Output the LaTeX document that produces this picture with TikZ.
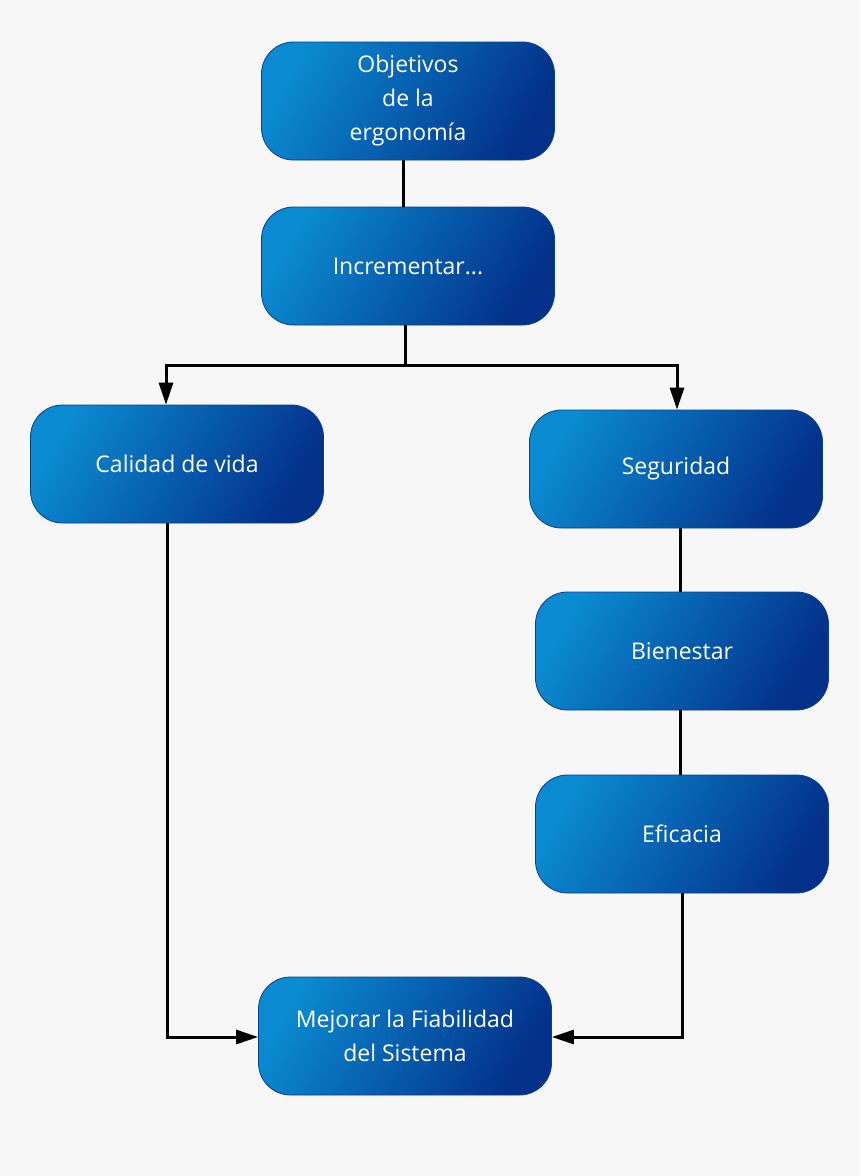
\documentclass[tikz,border=0pt]{standalone}
\usepackage{fontspec}
\setmainfont{Open Sans}
\usetikzlibrary{arrows.meta}
\definecolor{bg}{HTML}{F7F7F7}
\definecolor{boxlight}{HTML}{0A8AD0}
\definecolor{boxdark}{HTML}{03318A}
\definecolor{boxedge}{HTML}{0A3F8A}
\begin{document}
\begin{tikzpicture}[x=1pt,y=-1pt,
  box/.style={draw=boxedge,line width=0.8pt,rounded corners=32pt,minimum width=293pt,minimum height=118pt,
    shading=axis,left color=boxlight,right color=boxdark,shading angle=60,
    text=white,font=\fontsize{23}{34}\selectfont,align=center,inner sep=0pt},
  con/.style={line width=3pt,black},
  arr/.style={con,-{Triangle[width=14pt,length=22pt]}}]
\fill[bg] (0,0) rectangle (860,1176);
\node[box] (obj) at (408,101) {Objetivos\\de la\\ergonomía};
\node[box] (inc) at (408,266) {Incrementar...};
\node[box] (cal) at (177,464) {Calidad de vida};
\node[box] (seg) at (676,469) {Seguridad};
\node[box] (bie) at (682,651) {Bienestar};
\node[box] (efi) at (682,834) {Eficacia};
\node[box] (mej) at (405,1036) {Mejorar la Fiabilidad\\del Sistema};
\coordinate (j) at (405,365);
\draw[con] (obj.south -| 403,0) -- (inc.north -| 403,0);
\draw[con] (inc.south -| j) -- (j);
\draw[arr] (j) -| (cal.north -| 166,0);
\draw[arr] (j) -| (seg.north -| 677,0);
\draw[con] (seg.south -| 680,0) -- (bie.north -| 680,0);
\draw[con] (bie.south -| 680,0) -- (efi.north -| 680,0);
\draw[arr] (cal.south -| 167,0) |- (mej.west |- 0,1037);
\draw[arr] (efi.south -| 682,0) |- (mej.east |- 0,1037);
\end{tikzpicture}
\end{document}
